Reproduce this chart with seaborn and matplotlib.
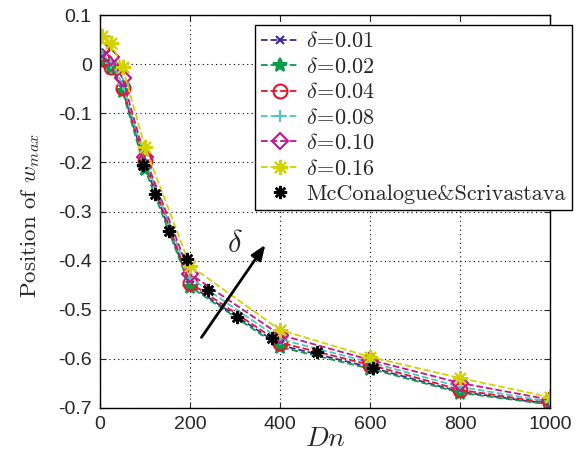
import numpy as np
import pandas as pd
import matplotlib
matplotlib.use("Agg")
import matplotlib.pyplot as plt
import seaborn as sns

sns.set_style("ticks")
plt.rcParams['font.family'] = ['Liberation Sans', 'DejaVu Sans']
plt.rcParams['mathtext.fontset'] = 'cm'

# ---- data ----
dn = [5, 25, 50, 100, 200, 400, 600, 800, 1000]
deltas = ["0.01", "0.02", "0.04", "0.08", "0.10", "0.16"]
w_001 = [0.015, -0.002, -0.050, -0.205, -0.450, -0.572, -0.617, -0.667, -0.692]
w_002 = [0.004, -0.008, -0.055, -0.214, -0.453, -0.576, -0.620, -0.669, -0.693]
w_004 = [0.010, -0.006, -0.049, -0.198, -0.445, -0.567, -0.612, -0.663, -0.690]
w_008 = [0.020, 0.003, -0.040, -0.195, -0.435, -0.560, -0.607, -0.657, -0.687]
w_010 = [0.031, 0.014, -0.029, -0.190, -0.427, -0.551, -0.602, -0.649, -0.683]
w_016 = [0.057, 0.042, -0.006, -0.169, -0.410, -0.541, -0.596, -0.639, -0.678]
series = [w_001, w_002, w_004, w_008, w_010, w_016]

mc_dn = [96, 122, 153, 193, 240, 304, 382, 482, 607]
mc_w = [-0.206, -0.265, -0.339, -0.396, -0.459, -0.514, -0.557, -0.586, -0.618]

xticks = [0, 200, 400, 600, 800, 1000]
yticks = [0.1, 0, -0.1, -0.2, -0.3, -0.4, -0.5, -0.6, -0.7]
ytick_labels = ["0.1", "0", "-0.1", "-0.2", "-0.3", "-0.4", "-0.5", "-0.6", "-0.7"]

colors = ['#3a2a95', '#0b9a48', '#e8122c', '#4cc6c6', '#c0168e', '#d2d200']
markers = ['x', '*', 'o', '+', 'D', (8, 2, 0)]
msizes = [6, 10, 10, 9, 8, 11]
filled = [True, True, False, True, False, True]

fig = plt.figure(figsize=(5.8, 4.55), dpi=100)
ax = fig.add_axes([100/580, 1-408/455, 450/580, 393/455])

for d, ys, c, m, ms, f in zip(deltas, series, colors, markers, msizes, filled):
    df = pd.DataFrame({"Dn": dn, "w": ys})
    kw = dict(color=c, linestyle='--', linewidth=1.3, marker=m, markersize=ms,
              markeredgecolor=c, markeredgewidth=1.5)
    if not f:
        kw['markerfacecolor'] = 'none'
    else:
        kw['markerfacecolor'] = c
    sns.lineplot(data=df, x="Dn", y="w", ax=ax, label=r'$\delta\!=\!%s$' % d,
                 errorbar=None, **kw)

mc = pd.DataFrame({"Dn": mc_dn, "w": mc_w})
sns.lineplot(data=mc, x="Dn", y="w", ax=ax, errorbar=None, color='black',
             linestyle='none', marker=(8, 2, 0), markersize=9.5, markeredgewidth=1.8,
             markeredgecolor='black', markerfacecolor='black',
             label='McConalogue&Scrivastava')

ax.annotate('', xy=(371, -0.363), xytext=(222, -0.561),
            arrowprops=dict(arrowstyle='-|>,head_length=0.9,head_width=0.35',
                            color='black', lw=2))
ax.text(300, -0.367, r'$\delta$', fontsize=22, ha='center', va='center')

ax.set_xlim(0, 1000)
ax.set_ylim(-0.7, 0.1)
ax.set_xticks(xticks)
ax.set_yticks(yticks)
ax.set_yticklabels(ytick_labels)
ax.tick_params(direction='in', top=True, right=True, labelsize=14, length=4,
               width=0.8, pad=6)
ax.grid(True, linestyle=(0, (1, 3)), color='black', linewidth=0.8)
for s in ax.spines.values():
    s.set_linewidth(1.0)
    s.set_color('black')

ax.set_xlabel(r'$Dn$', fontsize=20, labelpad=-5)
ax.set_ylabel(r'Position of $w_{max}$', fontsize=16.5, family='cmr10')
ax.yaxis.set_label_coords(-0.129, 0.49)

leg = ax.legend(loc='upper left', bbox_to_anchor=(0.344, 0.975), fontsize=16,
                frameon=True, fancybox=False, edgecolor='black', framealpha=1,
                handlelength=1.7, labelspacing=0.2, borderpad=0.3,
                handletextpad=0.3, borderaxespad=0)
leg.get_frame().set_linewidth(1.0)
leg.get_texts()[-1].set_fontfamily('cmr10')

fig.savefig("out.png", dpi=100)
